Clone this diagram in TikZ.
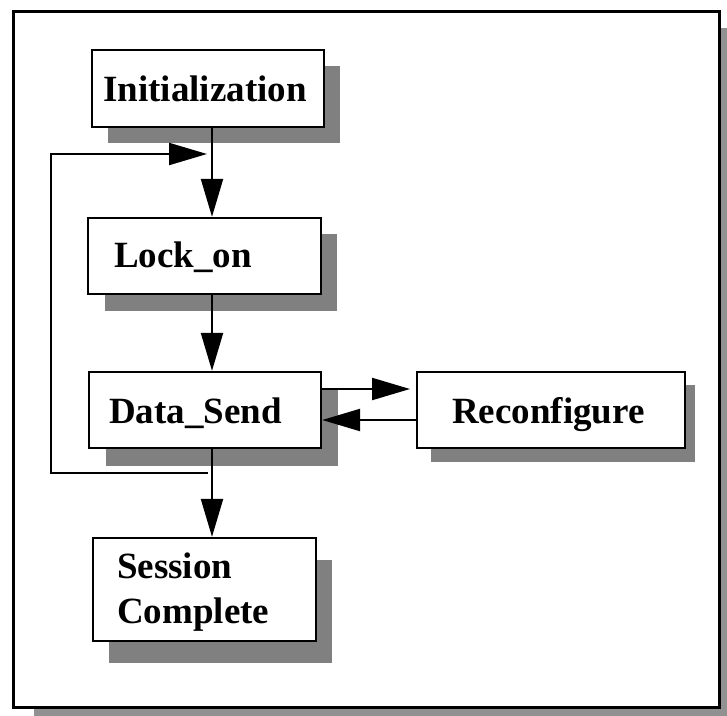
\documentclass[tikz,border=0pt]{standalone}
\usepackage{fontspec}
\setmainfont{Liberation Serif}
\usetikzlibrary{arrows.meta}
\definecolor{boxshade}{gray}{0.5}
\definecolor{frameshade}{gray}{0.57}
\tikzset{
  stateframe/.style={draw=black, line width=2.3pt, fill=white, inner sep=0pt},
  shade/.style={fill=boxshade, draw=none},
  label/.style={inner sep=0pt, anchor=base west, font=\bfseries\fontsize{37}{45}\selectfont},
  flow/.style={line width=2.2pt, -{Triangle[length=38pt,width=22pt]}},
  wire/.style={line width=2.2pt}
}
\begin{document}
\begin{tikzpicture}[x=1pt, y=-1pt]
\useasboundingbox (0,0) rectangle (727,715);

% outer frame with its shadow
\fill[frameshade] (34,28) rectangle (740,730);
\draw[line width=3pt, fill=white] (13,11) rectangle (719,707);

% box shadows
\fill[shade] (108,66) rectangle (340,143);
\fill[shade] (105,234) rectangle (337,311);
\fill[shade] (106,390) rectangle (338,466);
\fill[shade] (431,385) rectangle (695,462);
\fill[shade] (109,560) rectangle (332,663);

% state boxes
\node[stateframe, minimum width=232pt, minimum height=77pt] (init) at (208,88.5) {};
\node[stateframe, minimum width=233pt, minimum height=76pt] (lock) at (204.5,256) {};
\node[stateframe, minimum width=232pt, minimum height=76pt] (data) at (205,410) {};
\node[stateframe, minimum width=268pt, minimum height=76pt] (reconf) at (551,410) {};
\node[stateframe, minimum width=223pt, minimum height=103pt] (sess) at (204.5,589.5) {};

% labels
\node[label] (initText) at (103,101) {Initialization};
\node[label] (lockText) at (114,267) {Lock\_on};
\node[label] (dataText) at (109,423) {Data\_Send};
\node[label] (reconfText) at (452,423) {Reconfigure};
\node[label] (sessTextA) at (117,578) {Session};
\node[label] (sessTextB) at (117,623) {Complete};

% main column
\coordinate (col) at (212,0);
\draw[flow] (init.south -| col) -- (lock.north -| col);
\draw[flow] (lock.south -| col) -- (data.north -| col);
\draw[flow] (data.south -| col) -- (sess.north -| col);

% loop back to the top of the column
\coordinate (loopStart) at (208,473);
\coordinate (loopLow) at (51,473);
\coordinate (loopHigh) at (51,154);
\coordinate (loopEnd) at (207,154);
\draw[flow] (loopStart) -- (loopLow) -- (loopHigh) -- (loopEnd);

% exchange with Reconfigure
\coordinate (toReconf) at (410,389);
\draw[flow] (data.east |- toReconf) -- (toReconf);
\coordinate (fromReconf) at (417,420);
\draw[flow] (reconf.west |- fromReconf) -- (data.east |- fromReconf);
\end{tikzpicture}
\end{document}
